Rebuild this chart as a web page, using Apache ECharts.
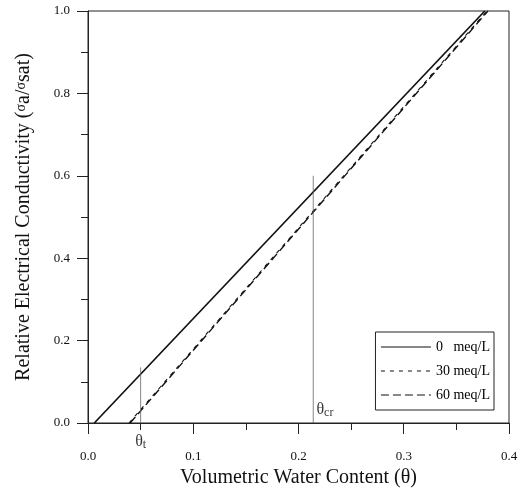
<!DOCTYPE html>
<html>
<head>
<meta charset="utf-8">
<script src="https://cdn.jsdelivr.net/npm/echarts@6/dist/echarts.min.js"></script>
<style>html,body{margin:0;padding:0;background:#fff}#c{width:518px;height:488px}</style>
</head>
<body>
<div id="c"></div>
<script>
// Data
const seriesNames = ['0   meq/L', '30 meq/L', '60 meq/L'];
const theta0 = [0.006, 0.377];
const sigma0 = [0.0, 1.0];
const theta30 = [0.039, 0.379];
const sigma30 = [0.0, 1.0];
const theta60 = [0.040, 0.380];
const sigma60 = [0.0, 1.0];
const thetaT = 0.05;
const thetaTTop = 0.135;
const thetaCr = 0.214;
const thetaCrTop = 0.6;
const xTicks = [0.0, 0.1, 0.2, 0.3, 0.4];
const yTicks = [0.0, 0.2, 0.4, 0.6, 0.8, 1.0];

const pairs = (xs, ys) => xs.map((x, i) => [x, ys[i]]);
const FONT = '"Liberation Serif", "DejaVu Serif", serif';

const chart = echarts.init(document.getElementById('c'), null, {renderer: 'canvas'});
chart.setOption({
  animation: false,
  backgroundColor: '#fff',
  grid: {left: 88, right: 9, top: 11, bottom: 65, show: true, borderColor: '#222', borderWidth: 1,
    containLabel: false, outerBoundsMode: 'none'},
  legend: {
    orient: 'vertical', right: 24, top: 332,
    data: seriesNames,
    borderColor: '#222', borderWidth: 1, borderRadius: 0,
    padding: [8, 4, 8, 5], itemGap: 10,
    itemWidth: 50, itemHeight: 14,
    itemStyle: {opacity: 0},
    lineStyle: {width: 1},
    textStyle: {fontFamily: FONT, fontSize: 14, color: '#000'},
    backgroundColor: '#fff'
  },
  xAxis: {
    type: 'value', min: 0, max: 0.4, interval: 0.1,
    name: 'Volumetric Water Content (θ)', nameLocation: 'middle', nameGap: 43,
    nameTextStyle: {fontFamily: FONT, fontSize: 20, color: '#111'},
    axisLine: {show: true, lineStyle: {color: '#222', width: 1}},
    axisTick: {show: true, inside: false, length: 11, lineStyle: {color: '#222'}},
    minorTick: {show: true, splitNumber: 2, length: 7, lineStyle: {color: '#222'}},
    splitLine: {show: false},
    axisLabel: {fontFamily: FONT, fontSize: 13, color: '#111', margin: 27,
      formatter: v => v.toFixed(1)}
  },
  yAxis: {
    type: 'value', min: 0, max: 1.0, interval: 0.2,
    name: '{n|Relative Electrical Conductivity (}{s|σ}{n|a/}{s|σ}{n|sat)}',
    nameLocation: 'middle', nameGap: 54,
    nameTextStyle: {
      fontFamily: FONT, fontSize: 20, color: '#111',
      rich: {
        n: {fontFamily: FONT, fontSize: 20, color: '#111'},
        s: {fontFamily: FONT, fontSize: 14, color: '#111', verticalAlign: 'top', padding: [0, 0, 6, 0]}
      }
    },
    axisLine: {show: true, lineStyle: {color: '#222', width: 1}},
    axisTick: {show: true, inside: false, length: 11, lineStyle: {color: '#222'}},
    minorTick: {show: true, splitNumber: 2, length: 7, lineStyle: {color: '#222'}},
    splitLine: {show: false},
    axisLabel: {fontFamily: FONT, fontSize: 13, color: '#111', margin: 18,
      formatter: v => v.toFixed(1)}
  },
  series: [
    {name: seriesNames[0], type: 'line', data: pairs(theta0, sigma0), symbol: 'none',
      lineStyle: {color: '#111', width: 1.7, type: 'solid'}, itemStyle: {color: '#111'}},
    {name: seriesNames[1], type: 'line', data: pairs(theta30, sigma30), symbol: 'none',
      lineStyle: {color: '#111', width: 1.1, type: [4, 5]}, itemStyle: {color: '#111'}},
    {name: seriesNames[2], type: 'line', data: pairs(theta60, sigma60), symbol: 'none',
      lineStyle: {color: '#111', width: 1.4, type: [8, 4]}, itemStyle: {color: '#111'}},
    {name: 'thetaT', type: 'line', data: [[thetaT, 0], [thetaT, thetaTTop]], symbol: 'none',
      lineStyle: {color: '#666', width: 0.8, type: 'solid'}, silent: true},
    {name: 'thetaCr', type: 'line', data: [[thetaCr, 0], [thetaCr, thetaCrTop]], symbol: 'none',
      lineStyle: {color: '#666', width: 0.8, type: 'solid'}, silent: true},
    {name: 'labels', type: 'scatter', symbolSize: 0, clip: false, silent: true,
      data: [
        {value: [thetaT, -0.045], label: {formatter: '{t|θ}{s|t}'}},
        {value: [thetaCr + 0.003, 0.033], label: {formatter: '{t|θ}{s|cr}', align: 'left'}}
      ],
      label: {show: true, position: 'inside', color: '#000',
        rich: {
          t: {fontFamily: FONT, fontSize: 16, color: '#000'},
          s: {fontFamily: FONT, fontSize: 12, color: '#000', verticalAlign: 'bottom', padding: [6, 0, 0, 0]}
        }}
    }
  ]
});
</script>
</body>
</html>
